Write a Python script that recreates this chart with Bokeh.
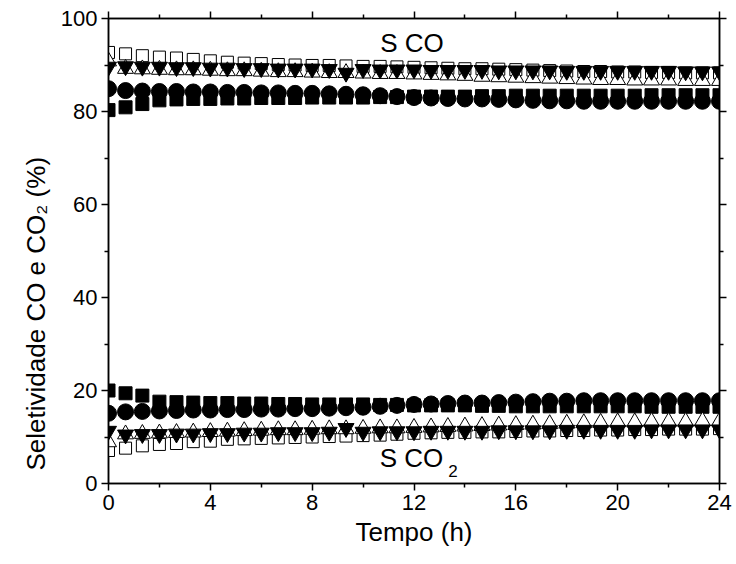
from bokeh.plotting import figure
from bokeh.models import Range1d, LinearAxis, FixedTicker, Label, ColumnDataSource, Title
from bokeh.embed import file_html
from bokeh.resources import INLINE

# ---------------- data ----------------
tempo = [0, 0.67, 1.33, 2, 2.67, 3.33, 4, 4.67, 5.33, 6, 6.67, 7.33, 8, 8.67, 9.33, 10,
         10.67, 11.33, 12, 12.67, 13.33, 14, 14.67, 15.33, 16, 16.67, 17.33, 18, 18.67,
         19.33, 20, 20.67, 21.33, 22, 22.67, 23.33, 24]

# S CO
co_sq_fill = [80.3, 80.9, 81.6, 82.4, 82.6, 82.7, 82.7, 82.8, 82.8, 82.9, 82.9, 82.9, 83.0,
              83.0, 83.0, 83.0, 83.1, 83.1, 83.2, 83.2, 83.2, 83.2, 83.3, 83.3, 83.4, 83.4,
              83.4, 83.4, 83.4, 83.4, 83.4, 83.4, 83.5, 83.5, 83.5, 83.5, 83.5]
co_circle = [84.9, 84.5, 84.4, 84.3, 84.3, 84.2, 84.2, 84.1, 84.1, 84.0, 84.0, 83.9, 83.9,
             83.8, 83.7, 83.6, 83.4, 83.2, 83.0, 82.9, 82.8, 82.7, 82.7, 82.6, 82.5, 82.4,
             82.3, 82.3, 82.2, 82.2, 82.2, 82.2, 82.2, 82.2, 82.2, 82.2, 82.2]
co_sq_open = [92.7, 92.4, 92.0, 91.7, 91.5, 91.2, 90.9, 90.6, 90.4, 90.3, 90.1, 90.0, 89.9,
              89.9, 89.8, 89.7, 89.7, 89.6, 89.5, 89.4, 89.3, 89.2, 89.2, 89.1, 89.0, 88.9,
              88.8, 88.7, 88.6, 88.6, 88.5, 88.5, 88.4, 88.4, 88.3, 88.3, 88.3]
co_tri_open = [90.8, 89.2, 89.1, 89.0, 88.9, 88.9, 88.8, 88.7, 88.7, 88.6, 88.5, 88.5, 88.4,
               88.3, 88.3, 88.2, 88.1, 88.1, 88.0, 87.9, 87.8, 87.7, 87.5, 87.4, 87.3, 87.2,
               87.1, 87.0, 86.9, 86.8, 86.8, 86.7, 86.7, 86.7, 86.6, 86.6, 86.6]
co_tri_down = [89.6, 89.7, 89.6, 89.6, 89.5, 89.5, 89.4, 89.4, 89.3, 89.3, 89.2, 89.2, 89.2,
               89.1, 88.3, 89.1, 89.0, 89.0, 89.0, 88.9, 88.9, 88.9, 88.9, 88.8, 88.8, 88.8,
               88.8, 88.7, 88.7, 88.7, 88.7, 88.7, 88.7, 88.7, 88.6, 88.6, 88.6]

# S CO2
co2_sq_fill = [20.0, 19.4, 18.9, 17.6, 17.5, 17.4, 17.3, 17.3, 17.2, 17.2, 17.1, 17.1, 17.0,
               17.0, 17.0, 17.0, 16.9, 16.9, 16.8, 16.8, 16.8, 16.8, 16.7, 16.7, 16.6, 16.6,
               16.6, 16.6, 16.6, 16.6, 16.6, 16.6, 16.5, 16.5, 16.5, 16.5, 16.5]
co2_circle = [15.1, 15.4, 15.5, 15.6, 15.7, 15.8, 15.8, 15.9, 15.9, 16.0, 16.0, 16.1, 16.1,
              16.2, 16.3, 16.4, 16.6, 16.8, 17.0, 17.1, 17.2, 17.3, 17.3, 17.4, 17.5, 17.6,
              17.7, 17.7, 17.8, 17.8, 17.8, 17.8, 17.8, 17.8, 17.8, 17.8, 17.8]
co2_sq_open = [7.1, 7.6, 8.1, 8.4, 8.6, 9.0, 9.1, 9.5, 9.6, 9.7, 9.8, 9.9, 10.0, 10.1, 10.2,
               10.3, 10.4, 10.6, 10.8, 10.9, 11.0, 11.0, 11.1, 11.1, 11.2, 11.3, 11.3, 11.4,
               11.4, 11.5, 11.5, 11.6, 11.6, 11.7, 11.7, 11.7, 11.8]
co2_tri_open = [8.9, 10.6, 10.7, 10.8, 10.9, 11.0, 11.1, 11.2, 11.3, 11.4, 11.5, 11.5, 11.6,
                11.7, 11.7, 11.8, 11.9, 11.9, 12.0, 12.1, 12.2, 12.3, 12.4, 12.5, 12.6, 12.7,
                12.8, 12.9, 13.0, 13.1, 13.2, 13.2, 13.3, 13.3, 13.3, 13.4, 13.4]
co2_tri_down = [11.3, 10.5, 10.6, 10.6, 10.7, 10.7, 10.8, 10.8, 10.9, 10.9, 11.0, 11.0, 11.0,
                11.1, 11.9, 11.1, 11.2, 11.2, 11.2, 11.3, 11.3, 11.3, 11.3, 11.4, 11.4, 11.4,
                11.4, 11.5, 11.5, 11.5, 11.5, 11.5, 11.6, 11.6, 11.6, 11.6, 11.6]

x_ticks = [0, 4, 8, 12, 16, 20, 24]
x_minor = [2, 6, 10, 14, 18, 22]
y_ticks = [0, 20, 40, 60, 80, 100]
y_minor = [10, 30, 50, 70, 90]

x_title = "Tempo (h)"
y_title = "Seletividade CO e CO\u2082 (%)"
label_co = "S CO"
label_co2 = "S CO"
label_co2_sub = "2"

FONT = "Liberation Sans"

src = ColumnDataSource(dict(
    t=tempo,
    co_sq_fill=co_sq_fill, co_circle=co_circle, co_sq_open=co_sq_open,
    co_tri_open=co_tri_open, co_tri_down=co_tri_down,
    co2_sq_fill=co2_sq_fill, co2_circle=co2_circle, co2_sq_open=co2_sq_open,
    co2_tri_open=co2_tri_open, co2_tri_down=co2_tri_down,
))

p = figure(width=736, height=564, output_backend="svg", toolbar_location=None,
           x_range=Range1d(0, 24), y_range=Range1d(0, 100),
           min_border_left=108, min_border_right=17, min_border_top=18,
           min_border_bottom=81, background_fill_color="white",
           border_fill_color="white")
p.xgrid.visible = False
p.ygrid.visible = False
p.outline_line_color = "black"
p.outline_line_width = 1.5

# markers (drawn in order: filled square, circle, open square, open triangle, down triangle)
for prefix in ("co", "co2"):
    p.scatter("t", f"{prefix}_sq_fill", source=src, marker="square", size=13,
              fill_color="black", line_color="black", line_width=1)
    p.scatter("t", f"{prefix}_circle", source=src, marker="circle", size=16,
              fill_color="black", line_color="black", line_width=1)
    p.scatter("t", f"{prefix}_sq_open", source=src, marker="square", size=12,
              fill_color="white", line_color="black", line_width=1)
    p.scatter("t", f"{prefix}_tri_open", source=src, marker="triangle", size=16,
              fill_color="white", line_color="black", line_width=1)
    p.scatter("t", f"{prefix}_tri_down", source=src, marker="inverted_triangle", size=16,
              fill_color="black", line_color="black", line_width=1)


def style_axis(ax, show_labels=True):
    ax.axis_line_width = 1.5
    ax.axis_line_color = "black"
    ax.major_tick_line_width = 1.5
    ax.minor_tick_line_width = 1.5
    ax.major_tick_out = 7
    ax.major_tick_in = 0
    ax.minor_tick_out = 4
    ax.minor_tick_in = 0
    ax.major_label_text_font = FONT
    ax.major_label_text_font_size = "22px" if show_labels else "0px"
    ax.major_label_text_color = "black"
    ax.axis_label_text_font = FONT
    ax.axis_label_text_font_style = "normal"
    ax.axis_label_text_color = "black"


xax = p.xaxis[0]
yax = p.yaxis[0]
xax.ticker = FixedTicker(ticks=x_ticks, minor_ticks=x_minor)
yax.ticker = FixedTicker(ticks=y_ticks, minor_ticks=y_minor)
style_axis(xax)
style_axis(yax)
xax.axis_label = x_title
xax.axis_label_text_font_size = "26px"
xax.axis_label_standoff = 4
xax.major_label_standoff = 4
yax.major_label_standoff = 4

top_ax = LinearAxis(ticker=FixedTicker(ticks=x_ticks, minor_ticks=x_minor))
right_ax = LinearAxis(ticker=FixedTicker(ticks=y_ticks, minor_ticks=y_minor))
style_axis(top_ax, False)
style_axis(right_ax, False)
top_ax.major_label_text_color = None
right_ax.major_label_text_color = None
p.add_layout(top_ax, "above")
p.add_layout(right_ax, "right")

# y-axis title as a side title, anchored near the bottom of the frame
ytitle = Title(text=y_title, align="left", offset=13, text_font=FONT,
               text_font_size="26px", text_font_style="normal", text_color="black",
               standoff=13)
p.add_layout(ytitle, "left")

# annotations
p.add_layout(Label(x=11.92, y=94.8, text=label_co, text_align="center",
                   text_baseline="middle", text_font=FONT, text_font_size="26px",
                   text_color="black"))
p.add_layout(Label(x=11.9, y=5.4, text=label_co2, text_align="center",
                   text_baseline="middle", text_font=FONT, text_font_size="26px",
                   text_color="black"))
p.add_layout(Label(x=13.35, y=2.6, text=label_co2_sub, text_align="left",
                   text_baseline="middle", text_font=FONT, text_font_size="17px",
                   text_color="black"))

open("out.html", "w").write(file_html(p, INLINE))
